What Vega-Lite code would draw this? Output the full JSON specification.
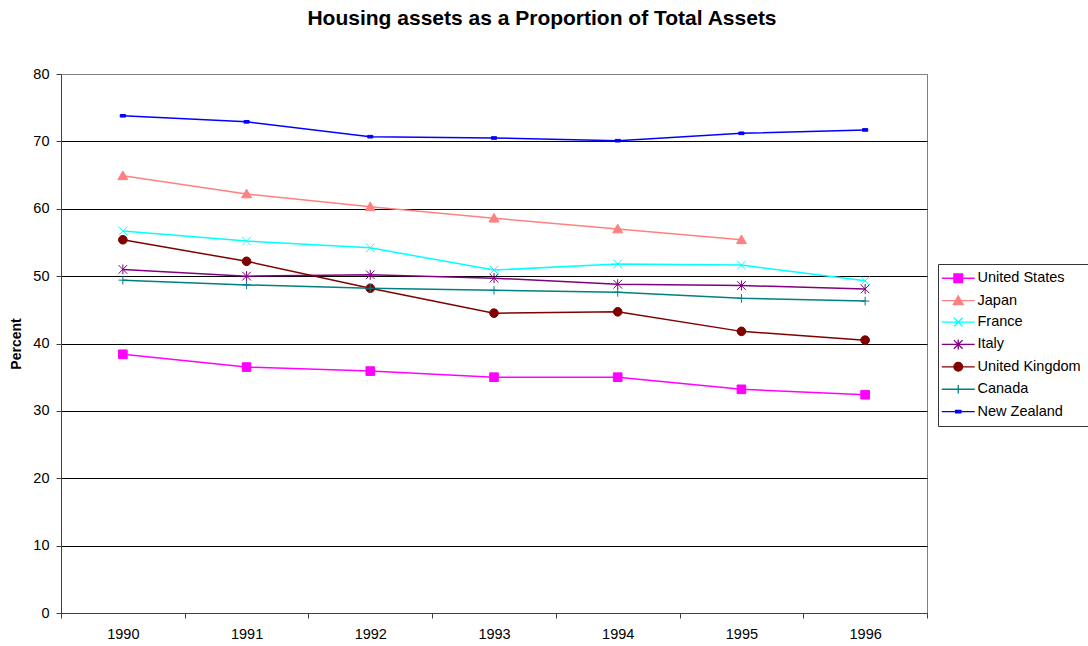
{
  "$schema": "https://vega.github.io/schema/vega-lite/v6.json",
  "width": 866,
  "height": 539,
  "autosize": {"type": "none"},
  "padding": {"left": 61, "top": 74, "right": 161, "bottom": 33},
  "background": "white",
  "title": {
    "text": "Housing assets as a Proportion of Total Assets",
    "font": "Liberation Sans",
    "fontSize": 21,
    "fontWeight": "bold",
    "color": "black",
    "anchor": "middle",
    "dx": 48,
    "offset": 37
  },
  "config": {
    "view": {"stroke": "#808080", "strokeWidth": 1},
    "font": "Liberation Sans",
    "legend": {
      "title": null,
      "orient": "none",
      "legendX": 877,
      "legendY": 190,
      "padding": 7,
      "strokeColor": "#333333",
      "fillColor": "white",
      "symbolSize": 75,
      "symbolStrokeWidth": 1.3,
      "symbolOffset": 6,
      "labelOffset": 12,
      "labelFont": "Liberation Sans",
      "labelFontSize": 14.5,
      "labelColor": "black",
      "rowPadding": 6.4,
      "labelLimit": 300
    }
  },
  "data": {
    "values": [
      {"country": "United States", "year": "1990", "value": 38.4},
      {"country": "United States", "year": "1991", "value": 36.5},
      {"country": "United States", "year": "1992", "value": 35.9},
      {"country": "United States", "year": "1993", "value": 35.0},
      {"country": "United States", "year": "1994", "value": 35.0},
      {"country": "United States", "year": "1995", "value": 33.2},
      {"country": "United States", "year": "1996", "value": 32.4},
      {"country": "Japan", "year": "1990", "value": 64.9},
      {"country": "Japan", "year": "1991", "value": 62.2},
      {"country": "Japan", "year": "1992", "value": 60.3},
      {"country": "Japan", "year": "1993", "value": 58.6},
      {"country": "Japan", "year": "1994", "value": 57.0},
      {"country": "Japan", "year": "1995", "value": 55.4},
      {"country": "France", "year": "1990", "value": 56.7},
      {"country": "France", "year": "1991", "value": 55.2},
      {"country": "France", "year": "1992", "value": 54.2},
      {"country": "France", "year": "1993", "value": 50.9},
      {"country": "France", "year": "1994", "value": 51.8},
      {"country": "France", "year": "1995", "value": 51.65},
      {"country": "France", "year": "1996", "value": 49.3},
      {"country": "Italy", "year": "1990", "value": 51.0},
      {"country": "Italy", "year": "1991", "value": 50.0},
      {"country": "Italy", "year": "1992", "value": 50.2},
      {"country": "Italy", "year": "1993", "value": 49.7},
      {"country": "Italy", "year": "1994", "value": 48.8},
      {"country": "Italy", "year": "1995", "value": 48.6},
      {"country": "Italy", "year": "1996", "value": 48.1},
      {"country": "United Kingdom", "year": "1990", "value": 55.4},
      {"country": "United Kingdom", "year": "1991", "value": 52.2},
      {"country": "United Kingdom", "year": "1992", "value": 48.2},
      {"country": "United Kingdom", "year": "1993", "value": 44.5},
      {"country": "United Kingdom", "year": "1994", "value": 44.7},
      {"country": "United Kingdom", "year": "1995", "value": 41.8},
      {"country": "United Kingdom", "year": "1996", "value": 40.5},
      {"country": "Canada", "year": "1990", "value": 49.4},
      {"country": "Canada", "year": "1991", "value": 48.7},
      {"country": "Canada", "year": "1992", "value": 48.2},
      {"country": "Canada", "year": "1993", "value": 47.9},
      {"country": "Canada", "year": "1994", "value": 47.6},
      {"country": "Canada", "year": "1995", "value": 46.7},
      {"country": "Canada", "year": "1996", "value": 46.3},
      {"country": "New Zealand", "year": "1990", "value": 73.8},
      {"country": "New Zealand", "year": "1991", "value": 72.9},
      {"country": "New Zealand", "year": "1992", "value": 70.7},
      {"country": "New Zealand", "year": "1993", "value": 70.5},
      {"country": "New Zealand", "year": "1994", "value": 70.1},
      {"country": "New Zealand", "year": "1995", "value": 71.2},
      {"country": "New Zealand", "year": "1996", "value": 71.7}
    ]
  },
  "encoding": {
    "x": {
      "field": "year",
      "type": "ordinal",
      "bandPosition": 0.5,
      "scale": {"type": "band", "paddingInner": 0, "paddingOuter": 0},
      "axis": {
        "title": null,
        "labelAngle": 0,
        "labelFont": "Liberation Sans",
        "labelFontSize": 14.5,
        "labelColor": "black",
        "labelPadding": 9,
        "tickBand": "extent",
        "tickSize": 5,
        "tickColor": "#404040",
        "domainColor": "#404040",
        "grid": false
      }
    },
    "y": {
      "field": "value",
      "type": "quantitative",
      "scale": {"domain": [0, 80], "nice": false, "zero": true},
      "axis": {
        "title": "Percent",
        "titleFont": "Liberation Sans",
        "titleFontSize": 14,
        "titleFontWeight": "bold",
        "titleColor": "black",
        "titlePadding": 9,
        "values": [0, 10, 20, 30, 40, 50, 60, 70, 80],
        "labelFont": "Liberation Sans",
        "labelFontSize": 14.5,
        "labelColor": "black",
        "labelPadding": 7,
        "tickSize": 5,
        "tickColor": "#404040",
        "domainColor": "#404040",
        "grid": true,
        "gridColor": {"condition": {"test": "datum.value == 80", "value": "#808080"}, "value": "black"},
        "gridWidth": 1,
        "gridOpacity": 1
      }
    },
    "color": {
      "field": "country",
      "type": "nominal",
      "sort": ["United States", "Japan", "France", "Italy", "United Kingdom", "Canada", "New Zealand"],
      "scale": {"range": ["#FF00FF", "#FF8080", "#00FFFF", "#800080", "#800000", "#008080", "#0000FF"]},
      "legend": {
        "encode": {
          "symbols": {
            "shape": {"value": {"expr": "'M-3.8,0L3.8,0' + scale('shape', datum.value)"}},
            "fill": {"value": {"expr": "scale('color', datum.value)"}},
            "stroke": {"value": {"expr": "scale('color', datum.value)"}},
            "strokeWidth": {"value": 1.3},
            "opacity": {"value": 1},
            "update": {
              "shape": {"signal": "'M-3.8,0L3.8,0' + scale('shape', datum.value)"},
              "fill": {"signal": "scale('color', datum.value)"},
              "stroke": {"signal": "scale('color', datum.value)"},
              "strokeWidth": {"value": 1.3},
              "opacity": {"value": 1}
            }
          }
        }
      }
    }
  },
  "layer": [
    {
      "mark": {"type": "line", "strokeWidth": 1.5}
    },
    {
      "mark": {"type": "point", "filled": true, "size": 75, "opacity": 1},
      "encoding": {
        "shape": {
          "field": "country",
          "type": "nominal",
          "sort": ["United States", "Japan", "France", "Italy", "United Kingdom", "Canada", "New Zealand"],
          "scale": {"range": [
            "M-1,-1L1,-1L1,1L-1,1Z",
            "M0,-1.1L1.15,0.9L-1.15,0.9Z",
            "M-1,-1L1,1M-1,1L1,-1",
            "M-1,-1L1,1M-1,1L1,-1M0,-1.15L0,1.15",
            "M-1,0A1,1 0 1,0 1,0A1,1 0 1,0 -1,0Z",
            "M-1,0L1,0M0,-1L0,1",
            "M-0.6,-0.3L0.6,-0.3L0.6,0.3L-0.6,0.3Z"
          ]},
          "legend": null
        }
      }
    },
    {
      "mark": {"type": "point", "filled": false, "size": 75, "strokeWidth": 1, "opacity": 1},
      "encoding": {
        "shape": {
          "field": "country",
          "type": "nominal",
          "sort": ["United States", "Japan", "France", "Italy", "United Kingdom", "Canada", "New Zealand"],
          "legend": null
        }
      }
    }
  ]
}
